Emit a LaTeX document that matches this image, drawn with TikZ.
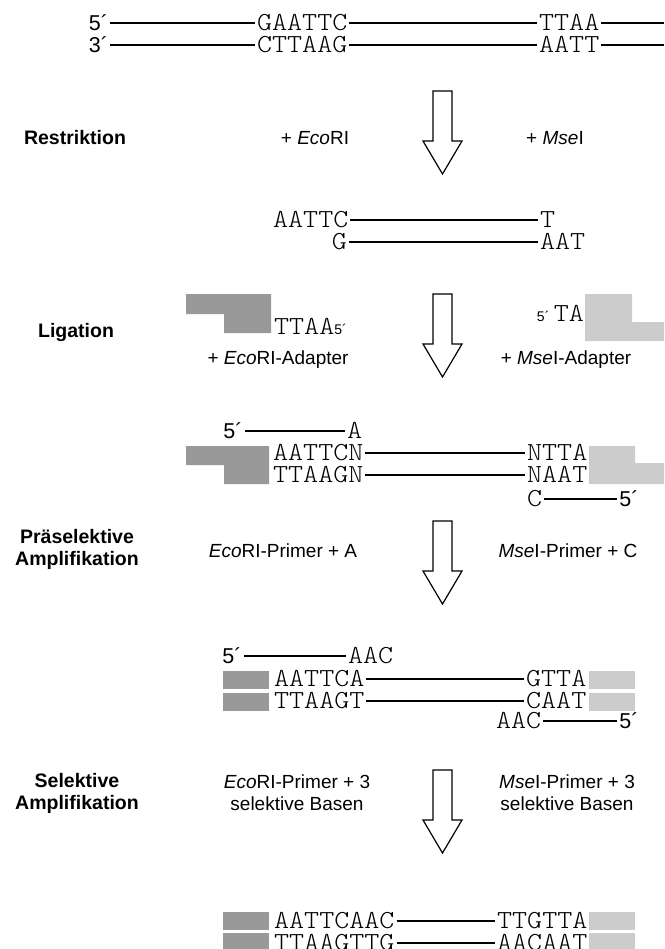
\documentclass[tikz,border=0pt]{standalone}
\usepackage{fontspec}
\setmainfont{Liberation Sans}
\newfontfamily\seqfont{lmmonolt10-regular.otf}[FakeStretch=1.1]
\definecolor{ecogray}{RGB}{153,153,153}
\definecolor{msegray}{RGB}{204,204,204}
\newcommand{\klein}{{\normalfont\fontsize{14}{14}\selectfont 5´}}

\begin{document}
\begin{tikzpicture}[x=1pt,y=-1pt,
    seq/.style={font=\fontsize{26}{26}\seqfont,anchor=west,inner xsep=2pt,inner ysep=0pt,text height=15.9pt,text depth=0pt},
    prime/.style={font=\fontsize{21.5}{21.5}\selectfont,inner xsep=2pt,inner ysep=0pt,text height=15pt,text depth=0pt},
    txt/.style={font=\fontsize{19}{22}\selectfont,align=center},
    lbl/.style={font=\fontsize{19.5}{22}\selectfont\bfseries,align=center},
    strand/.style={line width=1.1pt},
    pfeil/.style={draw,fill=white,line width=1.2pt}]
    \useasboundingbox (0,0) rectangle (664,949);

    % genomische DNA
    \node [prime] (p5) at (98.5,23) {5´};
    \node [seq] (g1) at (255,23) {GAATTC};
    \node [seq] (t1) at (537,23) {TTAA};
    \coordinate (r1) at (664,23);
    \node [prime] (p3) at (98.5,45) {3´};
    \node [seq] (c1) at (255,45) {CTTAAG};
    \node [seq] (a1) at (537,45) {AATT};
    \coordinate (r2) at (664,45);
    \draw [strand] (p5) -- (g1) -- (t1) -- (r1);
    \draw [strand] (p3) -- (c1) -- (a1) -- (r2);

    % Pfeile
    \foreach \t in {91,294,521,770}
        \draw [pfeil] (433,\t) -- (452,\t) -- (452,\t+50) -- (462,\t+50) -- (442.5,\t+83)
            -- (423,\t+50) -- (433,\t+50) -- cycle;

    % Restriktion
    \node [lbl] (restr) at (75,138) {Restriktion};
    \node [txt] (enz1) at (315,138) {+ \textit{Eco}RI};
    \node [txt] (enz2) at (555,138) {+ \textit{Mse}I};
    \node [seq] (f1) at (271,220) {AATTC};
    \node [seq] (f2) at (538,220) {T};
    \node [seq,anchor=east] (f3) at (349,242) {G};
    \node [seq] (f4) at (538,242) {AAT};
    \draw [strand] (f1) -- (f2);
    \draw [strand] (f3) -- (f4);

    % Ligation
    \fill [ecogray] (186,294) -- (271,294) -- (271,333) -- (224,333) -- (224,314) -- (186,314) -- cycle;
    \node [seq] (ad1) at (272,327) {TTAA\klein};
    \fill [msegray] (585,294) -- (632,294) -- (632,322) -- (664,322) -- (664,341) -- (585,341) -- cycle;
    \node [seq,anchor=east] (ad2) at (586,314) {\klein\,TA};
    \node [lbl] (lig) at (76,333) {Ligation};
    \node [txt] (ad3) at (278,360) {+ \textit{Eco}RI-Adapter};
    \node [txt] (ad4) at (566,360) {+ \textit{Mse}I-Adapter};

    \node [prime] (l5) at (233,431) {5´};
    \node [seq] (la) at (345,431) {A};
    \fill [ecogray] (186,446) -- (269,446) -- (269,484) -- (224,484) -- (224,465) -- (186,465) -- cycle;
    \node [seq] (l1) at (271,453) {AATTCN};
    \node [seq] (l2) at (525,453) {NTTA};
    \node [seq] (l3) at (271,475) {TTAAGN};
    \node [seq] (l4) at (525,475) {NAAT};
    \fill [msegray] (589,446) -- (635,446) -- (635,463) -- (664,463) -- (664,484) -- (589,484) -- cycle;
    \node [seq] (lc) at (525,499) {C};
    \node [prime] (l6) at (629,499) {5´};
    \draw [strand] (l5) -- (la);
    \draw [strand] (l1) -- (l2);
    \draw [strand] (l3) -- (l4);
    \draw [strand] (lc) -- (l6);

    % Praeselektive Amplifikation
    \node [lbl] (pre) at (77,549) {Präselektive\\Amplifikation};
    \node [txt] (pr1) at (283,551) {\textit{Eco}RI-Primer + A};
    \node [txt] (pr2) at (568,551) {\textit{Mse}I-Primer + C};

    \foreach \y in {671,693,912,933} {
        \fill [ecogray] (223,\y) rectangle +(46,17.5);
        \fill [msegray] (589,\y) rectangle +(46,17.5);
    }
    \node [prime] (m5) at (232,656) {5´};
    \node [seq] (maac) at (346,656) {AAC};
    \node [seq] (m1) at (272,679) {AATTCA};
    \node [seq] (m2) at (524,679) {GTTA};
    \node [seq] (m3) at (272,701) {TTAAGT};
    \node [seq] (m4) at (524,701) {CAAT};
    \node [seq] (m6) at (494,721) {AAC};
    \node [prime] (m7) at (629,721) {5´};
    \draw [strand] (m5) -- (maac);
    \draw [strand] (m1) -- (m2);
    \draw [strand] (m3) -- (m4);
    \draw [strand] (m6) -- (m7);

    % Selektive Amplifikation
    \node [lbl] (sel) at (77,793) {Selektive\\Amplifikation};
    \node [txt] (s1) at (297,793) {\textit{Eco}RI-Primer + 3\\selektive Basen};
    \node [txt] (s2) at (567,793) {\textit{Mse}I-Primer + 3\\selektive Basen};

    \node [seq] (e1) at (272,921) {AATTCAAC};
    \node [seq] (e2) at (495,921) {TTGTTA};
    \node [seq] (e3) at (272,943) {TTAAGTTG};
    \node [seq] (e4) at (495,943) {AACAAT};
    \draw [strand] (e1) -- (e2);
    \draw [strand] (e3) -- (e4);
\end{tikzpicture}
\end{document}
